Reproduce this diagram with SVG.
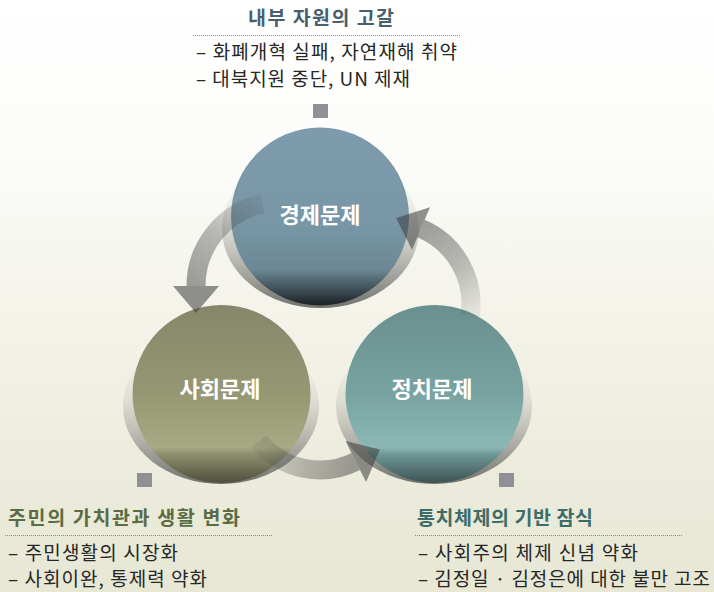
<svg xmlns="http://www.w3.org/2000/svg" width="714" height="592" viewBox="0 0 714 592">
<defs>
<style>
text{font-family:"Noto Sans CJK KR","Noto Sans",sans-serif;}
.hd{font-size:19.5px;font-weight:bold;}
.bd{font-size:19px;fill:#262626;}
.lbl{font-size:22px;font-weight:bold;fill:#ffffff;text-anchor:middle;}
.sep{stroke:#8a8a8a;stroke-width:1;stroke-dasharray:1 1;fill:none;}
.sq{fill:#8f9095;}
.shadow{fill:url(#gShadow);}
.arrowBody{fill:none;stroke-width:19;stroke-linecap:butt;}
.arrowHead{fill:#3a3a3a;fill-opacity:0.55;}
</style>
<linearGradient id="gBg" x1="0" y1="0" x2="0" y2="1">
<stop offset="0" stop-color="#ffffff"/>
<stop offset="0.25" stop-color="#fcfcfa"/>
<stop offset="0.6" stop-color="#f1f1e6"/>
<stop offset="1" stop-color="#e7e7d4"/>
</linearGradient>
<linearGradient id="gShadow" x1="0" y1="0" x2="0" y2="1">
<stop offset="0" stop-color="#ffffff" stop-opacity="0"/>
<stop offset="0.45" stop-color="#d4d4cc" stop-opacity="0.6"/>
<stop offset="1" stop-color="#6a6a66" stop-opacity="0.95"/>
</linearGradient>
<linearGradient id="gEco" x1="0" y1="0" x2="0" y2="1">
<stop offset="0" stop-color="#7e9bae"/>
<stop offset="0.55" stop-color="#7896a5"/>
<stop offset="0.8" stop-color="#6b8795"/>
<stop offset="0.84" stop-color="#5a727d"/>
<stop offset="1" stop-color="#1b2125"/>
</linearGradient>
<linearGradient id="gSoc" x1="0" y1="0" x2="0" y2="1">
<stop offset="0" stop-color="#86876a"/>
<stop offset="0.5" stop-color="#969773"/>
<stop offset="0.8" stop-color="#a8a985"/>
<stop offset="0.84" stop-color="#8d8e6e"/>
<stop offset="1" stop-color="#4e4e3b"/>
</linearGradient>
<linearGradient id="gPol" x1="0" y1="0" x2="0" y2="1">
<stop offset="0" stop-color="#6a8f8f"/>
<stop offset="0.5" stop-color="#78a3a1"/>
<stop offset="0.8" stop-color="#8bb8b5"/>
<stop offset="0.84" stop-color="#6e9795"/>
<stop offset="1" stop-color="#3c5252"/>
</linearGradient>
<linearGradient id="gArrL" gradientUnits="userSpaceOnUse" x1="262" y1="204" x2="196" y2="288">
<stop offset="0" stop-color="#3a3a3a" stop-opacity="0.1"/>
<stop offset="0.5" stop-color="#3a3a3a" stop-opacity="0.35"/>
<stop offset="1" stop-color="#3a3a3a" stop-opacity="0.48"/>
</linearGradient>
<linearGradient id="gArrR" gradientUnits="userSpaceOnUse" x1="470" y1="316" x2="421" y2="228">
<stop offset="0" stop-color="#3a3a3a" stop-opacity="0.08"/>
<stop offset="0.5" stop-color="#3a3a3a" stop-opacity="0.33"/>
<stop offset="1" stop-color="#3a3a3a" stop-opacity="0.48"/>
</linearGradient>
<linearGradient id="gArrB" gradientUnits="userSpaceOnUse" x1="259" y1="441" x2="356" y2="462">
<stop offset="0" stop-color="#3a3a3a" stop-opacity="0.1"/>
<stop offset="0.5" stop-color="#3a3a3a" stop-opacity="0.33"/>
<stop offset="1" stop-color="#3a3a3a" stop-opacity="0.48"/>
</linearGradient>
</defs>

<rect x="0" y="0" width="714" height="592" fill="url(#gBg)"/>

<g id="node-economy">
<ellipse class="shadow" cx="320.5" cy="229" rx="98.5" ry="79"/>
<circle cx="320" cy="216.5" r="89" fill="url(#gEco)"/>
<text class="lbl" x="320" y="223">경제문제</text>
</g>

<g id="node-social">
<ellipse class="shadow" cx="221" cy="406" rx="98" ry="78"/>
<circle cx="221.5" cy="394" r="89" fill="url(#gSoc)"/>
<text class="lbl" x="220" y="397">사회문제</text>
</g>

<g id="node-politics">
<ellipse class="shadow" cx="434" cy="406" rx="98" ry="78"/>
<circle cx="434.5" cy="394" r="89" fill="url(#gPol)"/>
<text class="lbl" x="432" y="397">정치문제</text>
</g>

<g id="connectors">
<path class="arrowBody" stroke="url(#gArrL)" d="M262.5,203.8 A84,84 0 0 0 196,286"/>
<polygon class="arrowHead" points="173,286 219,286 196,313"/>
<path class="arrowBody" stroke="url(#gArrR)" d="M470.2,315.4 A82,82 0 0 0 421,228.5"/>
<polygon class="arrowHead" points="430,207.3 412,249.7 396.1,218"/>
<path class="arrowBody" stroke="url(#gArrB)" d="M258.7,441.4 A80,80 0 0 0 355.8,461.5"/>
<polygon class="arrowHead" points="345.5,440.9 366.1,482.1 379.9,449.4"/>
</g>

<g id="note-top">
<text class="hd" x="248" y="25" textLength="146" lengthAdjust="spacing" fill="#4a5f6e">내부 자원의 고갈</text>
<line class="sep" x1="193" y1="35.5" x2="460" y2="35.5"/>
<text class="bd" x="196" y="59" textLength="261" lengthAdjust="spacing">– 화폐개혁 실패, 자연재해 취약</text>
<text class="bd" x="196" y="86" textLength="214" lengthAdjust="spacing">– 대북지원 중단, UN 제재</text>
<rect class="sq" x="313" y="104" width="15" height="14"/>
</g>

<g id="note-left">
<rect class="sq" x="137" y="473" width="15" height="14"/>
<text class="hd" x="8" y="525" textLength="232" lengthAdjust="spacing" fill="#5b6b43">주민의 가치관과 생활 변화</text>
<line class="sep" x1="5" y1="535.5" x2="272" y2="535.5"/>
<text class="bd" x="8" y="560" textLength="170" lengthAdjust="spacing">– 주민생활의 시장화</text>
<text class="bd" x="8" y="586" textLength="199" lengthAdjust="spacing">– 사회이완, 통제력 약화</text>
</g>

<g id="note-right">
<rect class="sq" x="499" y="473" width="15" height="14"/>
<text class="hd" x="417" y="525" textLength="176" lengthAdjust="spacing" fill="#3d6d68">통치체제의 기반 잠식</text>
<line class="sep" x1="415" y1="535.5" x2="682" y2="535.5"/>
<text class="bd" x="418" y="560" textLength="220" lengthAdjust="spacing">– 사회주의 체제 신념 약화</text>
<text class="bd" x="418" y="586" textLength="292" lengthAdjust="spacing">– 김정일 · 김정은에 대한 불만 고조</text>
</g>
</svg>
